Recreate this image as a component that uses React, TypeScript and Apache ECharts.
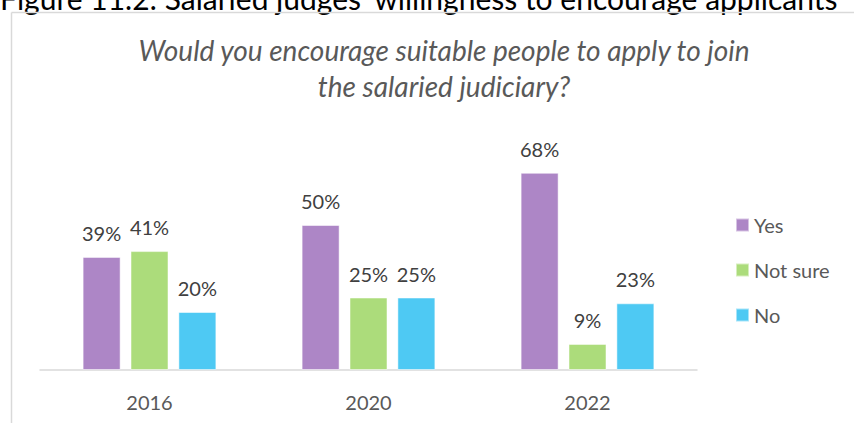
import React, { useEffect, useRef } from "react";
import * as echarts from "echarts";

const categories = ["2016", "2020", "2022"];
const yesValues = [39, 50, 68];
const notSureValues = [41, 25, 9];
const noValues = [20, 25, 23];
const seriesNames = ["Yes", "Not sure", "No"];
const colors = ["#AD86C6", "#ACDC7B", "#4EC9F3"];

const FONT = "Lato, 'Open Sans', sans-serif";

export default function App() {
  const ref = useRef<HTMLDivElement>(null);
  useEffect(() => {
    if (!ref.current) return;
    const chart = echarts.init(ref.current, null, { renderer: "svg" });
    const data = [yesValues, notSureValues, noValues];
    chart.setOption({
      animation: false,
      backgroundColor: "#ffffff",
      textStyle: { fontFamily: FONT },
      title: {
        text: "Would you encourage suitable people to apply to join\nthe salaried judiciary?",
        left: 439,
        top: 27,
        textAlign: "center",
        textStyle: {
          fontFamily: FONT,
          fontStyle: "italic",
          fontWeight: "normal",
          fontSize: 28,
          lineHeight: 36,
          color: "#595959",
        },
      },
      graphic: [
        {
          type: "text",
          left: 0,
          top: -17,
          style: {
            text: "Figure 11.2: Salaried judges' willingness to encourage applicants",
            font: `30px ${FONT}`,
            fill: "#000000",
          },
        },
        {
          type: "line",
          shape: { x1: 11.5, y1: 12.5, x2: 854, y2: 12.5 },
          style: { stroke: "#D9D9D9", lineWidth: 1.5 },
        },
        {
          type: "line",
          shape: { x1: 11.5, y1: 12.5, x2: 11.5, y2: 423 },
          style: { stroke: "#D9D9D9", lineWidth: 1.5 },
        },
      ],
      legend: {
        orient: "vertical",
        left: 730,
        top: 210,
        itemWidth: 13,
        itemHeight: 13,
        itemGap: 25,
        icon: "rect",
        textStyle: { fontFamily: FONT, fontSize: 20, color: "#595959" },
        data: seriesNames,
      },
      grid: { left: 40, right: 157, top: 138, bottom: 53 },
      xAxis: {
        type: "category",
        data: categories,
        axisLine: { lineStyle: { color: "#D9D9D9", width: 1.5 } },
        axisTick: { show: false },
        axisLabel: { fontFamily: FONT, fontSize: 20, color: "#595959", margin: 22 },
      },
      yAxis: {
        type: "value",
        min: 0,
        max: 80,
        show: false,
        splitLine: { show: false },
      },
      series: seriesNames.map((name, i) => ({
        name,
        type: "bar",
        data: data[i],
        barWidth: 38,
        barGap: "26%",
        itemStyle: { color: colors[i], borderColor: "rgba(255,255,255,0.5)", borderWidth: 1 },
        label: {
          show: true,
          position: "top",
          distance: 14,
          formatter: "{c}%",
          fontFamily: FONT,
          fontSize: 20,
          color: "#404040",
        },
      })),
    });
    return () => chart.dispose();
  }, []);
  return (
    <div
      ref={ref}
      style={{ position: "absolute", left: 0, top: 0, width: 854, height: 423 }}
    />
  );
}
